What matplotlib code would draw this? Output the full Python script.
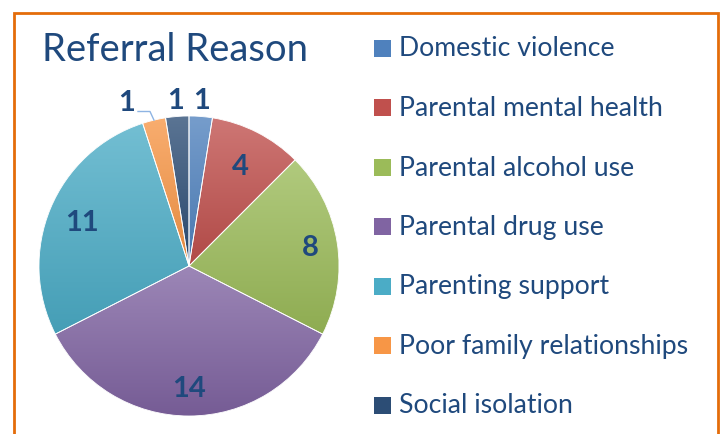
import matplotlib
matplotlib.use("Agg")
import matplotlib.pyplot as plt
import matplotlib.patches as mpatches
import matplotlib.colors as mcolors
import numpy as np

# data
reasons = ["Domestic violence", "Parental mental health", "Parental alcohol use",
           "Parental drug use", "Parenting support", "Poor family relationships",
           "Social isolation"]
counts = [1, 4, 8, 14, 11, 1, 1]
colors = ["#4F81BD", "#C0504D", "#9BBB59", "#8064A2", "#4BACC6", "#F79646", "#2C4D75"]

TEXT = "#1F497D"
W, H = 723, 435
plt.rcParams["font.family"] = ["Lato", "DejaVu Sans"]

fig = plt.figure(figsize=(W / 100, H / 100), dpi=100)
fig.patch.set_facecolor("white")

# pie axes: center (189, 267) px, radius 150 px, limits +-1.2
cx, cy, r = 189, 267, 150
half = 1.2 * r
ax = fig.add_axes([(cx - half) / W, (H - cy - half) / H, 2 * half / W, 2 * half / H])

wedges, _ = ax.pie(counts, colors=colors, startangle=90, counterclock=False,
                   radius=1.0, wedgeprops=dict(edgecolor="white", linewidth=0.6))
ax.set_aspect("equal")
ax.axis("off")

# soft vertical gradient in each slice, lighter at the top
for w, c in zip(wedges, colors):
    base = np.array(mcolors.to_rgb(c))
    top = base + (1 - base) * 0.22
    bot = base * 0.92
    v = w.get_path().vertices
    y0, y1 = v[:, 1].min(), v[:, 1].max()
    x0, x1 = v[:, 0].min(), v[:, 0].max()
    t = np.linspace(0, 1, 64)[:, None]
    img = (top[None, :] * (1 - t) + bot[None, :] * t)[:, None, :]
    im = ax.imshow(img, extent=(x0, x1, y0, y1), aspect="auto", zorder=w.get_zorder() + 0.1,
                   interpolation="bilinear")
    im.set_clip_path(w)
    edge = mpatches.Wedge(w.center, w.r, w.theta1, w.theta2, facecolor="none",
                          edgecolor="white", linewidth=0.6, zorder=w.get_zorder() + 0.2)
    ax.add_patch(edge)
ax.set_xlim(-1.2, 1.2)
ax.set_ylim(-1.2, 1.2)

# value labels (radial distance per slice, like Excel's best fit)
label_dist = [1.11, 0.75, 0.82, 0.81, 0.77, 1.17, 1.11]
label_shift = [0, 0, 0, 0, 0, 7.2, 0]
for w, n, d, s in zip(wedges, counts, label_dist, label_shift):
    ang = np.deg2rad((w.theta1 + w.theta2) / 2 + s)
    ax.text(d * np.cos(ang), d * np.sin(ang), str(n), ha="center", va="center",
            fontsize=21, fontweight="bold", color=TEXT, zorder=10)

# leader line for the small orange slice
orange = wedges[5]
mid = np.deg2rad((orange.theta1 + orange.theta2) / 2)
ex, ey = np.cos(mid), np.sin(mid)
ax.plot([-0.34, -0.26, ex], [1.03, 1.03, ey], color="#8EB4E3", linewidth=1, zorder=9,
        clip_on=False)

# title
fig.text(42 / W, 1 - 50 / H, "Referral Reason", fontsize=27.5, color=TEXT, va="center", ha="left")

# legend
for i, (lab, c) in enumerate(zip(reasons, colors)):
    yc = 49 + i * 59.5
    fig.patches.append(mpatches.Rectangle((374 / W, 1 - (yc + 8.5) / H), 17 / W, 17 / H,
                                          transform=fig.transFigure, facecolor=c,
                                          edgecolor="none"))
    fig.text(399 / W, 1 - yc / H, lab, fontsize=19.2, color=TEXT, va="center", ha="left")

# orange frame
fig.patches.append(mpatches.Rectangle((14 / W, -0.05), (718 - 14) / W, 1.05 - 14 / H,
                                      transform=fig.transFigure, facecolor="none",
                                      edgecolor="#E46C0A", linewidth=2))

fig.savefig("out.png", dpi=100, facecolor="white")
